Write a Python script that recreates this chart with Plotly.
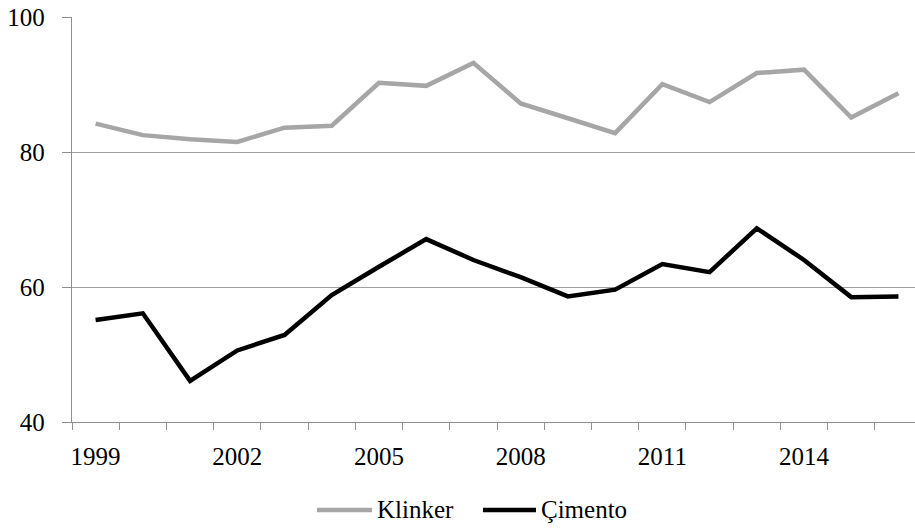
import plotly.graph_objects as go

# Annual capacity utilisation (%) of Turkish clinker and cement production
years = list(range(1999, 2017))
klinker = [84.2, 82.5, 81.9, 81.5, 83.6, 83.9, 90.25, 89.8, 93.2, 87.2,
           85.0, 82.8, 90.05, 87.4, 91.7, 92.2, 85.1, 88.7]
cimento = [55.1, 56.1, 46.1, 50.6, 52.9, 58.8, 63.0, 67.1, 64.0, 61.45,
           58.6, 59.6, 63.4, 62.2, 68.7, 64.0, 58.5, 58.6]

series_names = ["Klinker", "Çimento"]
series_colors = ["#a6a6a6", "#000000"]
label_years = [1999, 2002, 2005, 2008, 2011, 2014]
y_ticks = [40, 60, 80, 100]

FONT = "'Liberation Serif', serif"
AXIS_GREY = "#8f8f8f"
GRID_GREY = "#a0a0a0"
LINE_W = 4.5

fig = go.Figure()
for name, vals, color in zip(series_names, [klinker, cimento], series_colors):
    fig.add_trace(go.Scatter(x=years, y=vals, mode="lines", name=name,
                             line=dict(color=color, width=LINE_W),
                             showlegend=False))

# Legend row below the axis: long line sample followed by the series name
legend_y = -0.217
legend_slots = [(0.2906, 0.3559), (0.4875, 0.5504)]
for (x0, x1), name, color in zip(legend_slots, series_names, series_colors):
    fig.add_shape(type="line", xref="paper", yref="paper",
                  x0=x0, x1=x1, y0=legend_y, y1=legend_y,
                  line=dict(color=color, width=LINE_W))
    fig.add_annotation(xref="paper", yref="paper", x=x1 + 0.003, y=legend_y,
                       text=name, showarrow=False, xanchor="left",
                       yanchor="middle",
                       font=dict(family=FONT, size=25, color="black"))

# category boundaries between consecutive years carry the x tick marks
boundaries = [y - 0.5 for y in years]

fig.update_layout(
    width=915, height=529,
    margin=dict(l=72, r=0, t=17, b=107),
    paper_bgcolor="white", plot_bgcolor="white",
    font=dict(family=FONT, size=25, color="black"),
    showlegend=False,
    xaxis=dict(range=[1998.5, 2016.35], tickmode="array",
               tickvals=label_years, ticktext=[str(v) for v in label_years],
               ticks="", showgrid=False, zeroline=False,
               showline=True, linecolor=AXIS_GREY, linewidth=1.3,
               minor=dict(tickmode="array", tickvals=boundaries,
                          ticks="outside", ticklen=7, tickwidth=1.3,
                          tickcolor=AXIS_GREY, showgrid=False),
               ticklabelstandoff=12,
               tickfont=dict(size=25, family=FONT)),
    yaxis=dict(range=[40, 100], tickmode="array", tickvals=y_ticks,
               ticks="outside", ticklen=9, tickwidth=1.3, tickcolor=AXIS_GREY,
               showgrid=True, gridcolor=GRID_GREY, gridwidth=1.3,
               zeroline=False, showline=True, linecolor=AXIS_GREY,
               linewidth=1.3, ticklabelstandoff=12,
               tickfont=dict(size=25, family=FONT)),
)

fig.write_html("out.html")
